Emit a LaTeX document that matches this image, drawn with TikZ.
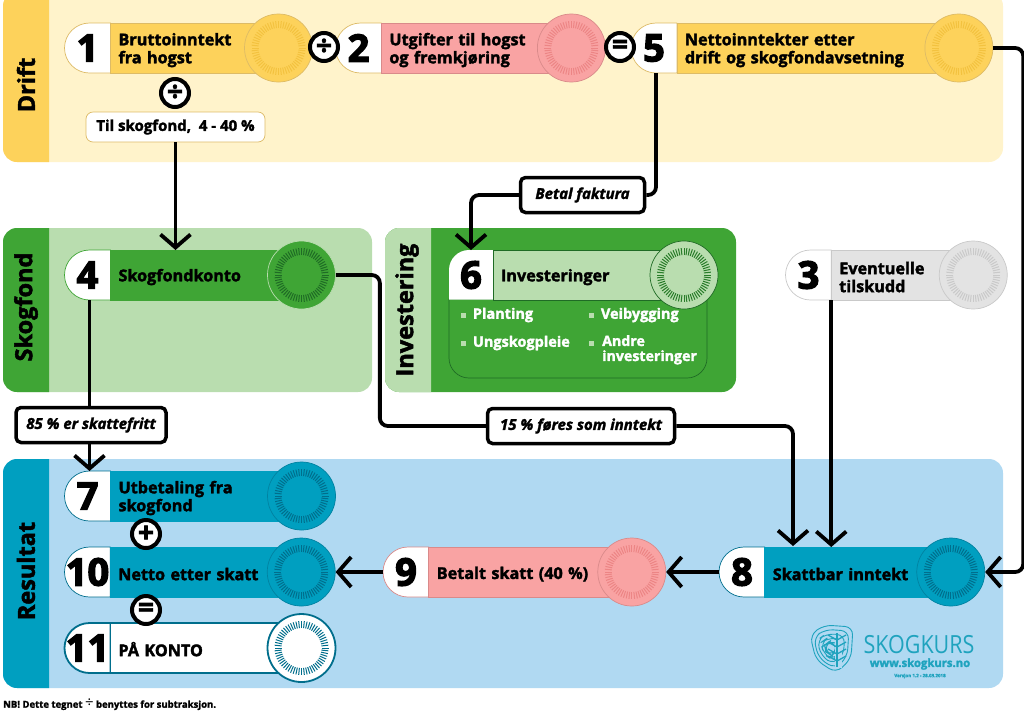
\documentclass[tikz,border=0pt]{standalone}
\usepackage{fontspec}
\setmainfont{Open Sans}[BoldFeatures={FakeBold=2},BoldItalicFeatures={FakeBold=2}]
\newfontfamily\numfont{Open Sans}[BoldFeatures={FakeBold=3.5}]
\usepackage{tikz}
\usetikzlibrary{arrows.meta,shapes.misc,positioning}
\definecolor{gul}{HTML}{FDD25B}
\definecolor{gullys}{HTML}{FFF3CB}
\definecolor{gulkant}{HTML}{DDBB66}
\definecolor{gulstraale}{HTML}{F3C23F}
\definecolor{rod}{HTML}{F9A3A3}
\definecolor{rodkant}{HTML}{D98A8A}
\definecolor{rodstraale}{HTML}{EC8585}
\definecolor{gronn}{HTML}{3FA535}
\definecolor{gronnlys}{HTML}{B9DDAF}
\definecolor{gronnmork}{HTML}{1F6B25}
\definecolor{bla}{HTML}{009FC0}
\definecolor{blalys}{HTML}{B0D9F2}
\definecolor{blamork}{HTML}{006E8C}
\definecolor{gra}{HTML}{E3E3E3}
\definecolor{grakant}{HTML}{C9C9C9}
\definecolor{logobla}{HTML}{1FA3BE}

% rays round a disc
\newcommand{\rays}[2]{%
  \foreach \a in {0,6,...,354}
    \draw[#2,line width=1pt] (#1)+(\a:20) -- +(\a:27);%
}
\newcommand{\panelfill}[7]{%
  \fill[#7,rounded corners=14pt] (#1,#2) rectangle (#3,#4);
  \fill[#6] (#5,#2) [rounded corners=14pt] -- (#1,#2) -- (#1,#4) [sharp corners] -- (#5,#4) -- cycle;%
}

\begin{document}
\begin{tikzpicture}[
  x=1pt,y=-1pt,
  numcell/.style={draw=#1,fill=white,rounded rectangle,rounded rectangle right arc=none,
                  minimum width=45pt,minimum height=50pt,inner sep=0pt,outer sep=0pt,
                  line width=0.7pt,execute at begin node={\kern-4pt},
                  font=\fontsize{38}{38}\numfont\bfseries},
  bodybox/.style={draw=#1,rectangle,minimum height=50pt,inner xsep=8pt,inner ysep=0pt,
                  outer sep=0pt,line width=0.7pt,align=left,
                  execute at begin node={\rule{0pt}{16.5pt}},
                  font=\fontsize{16.2}{18}\selectfont\bfseries},
  disc/.style={circle,minimum size=68pt,inner sep=0pt,line width=0.7pt},
  panellab/.style={rotate=90,font=\fontsize{23.5}{25}\selectfont\bfseries},
  opr/.style={circle,draw=black,fill=white,line width=4pt,minimum size=28pt,inner sep=0pt,
              font=\fontsize{28}{28}\selectfont\bfseries},
  lab/.style={draw=black,fill=white,line width=3.5pt,rounded corners=5pt,inner sep=0pt,
              minimum height=35pt,font=\fontsize{15}{15}\selectfont\bfseries\itshape},
  arr/.style={line width=3.8pt,rounded corners=8pt,-{Straight Barb[length=13pt,width=30pt]}},
  pil/.style={line width=3.8pt,rounded corners=8pt},
  bullet/.style={anchor=west,text=white,font=\fontsize{14.5}{15}\selectfont\bfseries,
                 align=left,inner sep=0pt},
  tick/.style={fill=gronnlys,minimum size=5pt,inner sep=0pt},
]
  \useasboundingbox (0,0) rectangle (1024,713);

  \panelfill{3}{-8}{1003}{162}{49}{gul}{gullys}
  \panelfill{3}{228}{372}{392}{49}{gronn}{gronnlys}
  \panelfill{385}{228}{736}{392}{431}{gronnlys}{gronn}
  \panelfill{3}{459}{1003}{688}{49}{bla}{blalys}

  \node[panellab] (drift) at (26,85) {Drift};
  \node[panellab] (skogfond) at (26,307) {Skogfond};
  \node[panellab] (investering) at (407,310) {Investering};
  \node[panellab] (resultat) at (26,571) {Resultat};

  % rad 1
  \node[numcell=gulkant] (n1) at (89.5,48) {1};
  \node[bodybox=gulkant,fill=gul,right=0pt of n1,text width=152pt] (b1)
    {Bruttoinntekt\\fra hogst};
  \node[disc,draw=gulkant,fill=gul] (d1) at (b1.east) {};
  \rays{d1}{gulstraale}

  \node[numcell=gulkant] (n2) at (360.5,48) {2};
  \node[bodybox=rodkant,fill=rod,right=0pt of n2,text width=174pt] (b2)
    {Utgifter til hogst\\og fremkjøring};
  \node[disc,draw=rodkant,fill=rod] (d2) at (b2.east) {};
  \rays{d2}{rodstraale}

  \node[numcell=gulkant] (n5) at (656,48) {5};
  \node[bodybox=gulkant,fill=gul,right=0pt of n5,text width=266pt] (b5)
    {Nettoinntekter etter\\drift og skogfondavsetning};
  \node[disc,draw=gulkant,fill=gul] (d5) at (b5.east) {};
  \rays{d5}{gulstraale}

  \node[opr] (o1) at (324,47) {÷};
  \node[opr] (o2) at (620,47) {=};
  \node[opr] (o3) at (175,93) {÷};

  \node[draw=gulkant,fill=white,rounded corners=7pt,minimum width=179pt,minimum height=30pt,
        inner sep=0pt,line width=0.7pt,font=\fontsize{15}{15}\selectfont\bfseries]
    (til) at (175.5,127) {Til skogfond,~ 4 - 40 \%};

  % rad 2
  \node[numcell=gronn] (n4) at (89.5,275) {4};
  \node[bodybox=gronn,fill=gronn,right=0pt of n4,text width=175pt] (b4) {Skogfondkonto};
  \node[disc,draw=gronnlys,fill=gronn] (d4) at (b4.east) {};
  \rays{d4}{gronnmork}

  \draw[draw=gronnmork,fill=gronn,line width=0.7pt]
    (449,299) [rounded corners=20pt] -- (449,378) -- (707,378) [sharp corners] -- (707,299) -- cycle;
  \fill[white] (493,299.5) -- (449,299.5) [rounded corners=20pt] -- (449,250) [sharp corners] -- (493,250) -- cycle;
  \node[inner sep=0pt,outer sep=0pt,minimum width=44pt,minimum height=50pt,
        font=\fontsize{38}{38}\numfont\bfseries] (n6) at (471,275) {6};
  \node[bodybox=gronnmork,fill=gronnlys,right=0pt of n6,text width=175pt] (b6) {Investeringer};
  \node[disc,draw=gronnmork,fill=gronnlys] (d6) at (b6.east) {};
  \rays{d6}{gronnmork!70!gronn}

  \node[tick] (t1) at (463,315) {};
  \node[tick] (t2) at (463,343) {};
  \node[tick] (t3) at (591,315) {};
  \node[tick] (t4) at (591,343) {};
  \node[bullet,right=7pt of t1] (p1) {Planting};
  \node[bullet,right=7pt of t2] (p2) {Ungskogpleie};
  \node[bullet,right=7pt of t3] (p3) {Veibygging};
  \node[bullet,anchor=north west,font=\fontsize{14.2}{15}\selectfont\bfseries] (p4) at (602,335) {Andre\\investeringer};

  \node[numcell=grakant] (n3) at (810.5,275) {3};
  \node[bodybox=grakant,fill=gra,right=0pt of n3,text width=126pt] (b3) {Eventuelle\\tilskudd};
  \node[disc,draw=grakant,fill=gra] (d3) at (b3.east) {};
  \rays{d3}{grakant}

  % resultat
  \node[numcell=blamork] (n7) at (89.5,496) {7};
  \node[bodybox=bla,fill=bla,right=0pt of n7,text width=175pt] (b7) {Utbetaling fra\\skogfond};
  \node[disc,draw=blamork!60!bla,fill=bla] (d7) at (b7.east) {};
  \rays{d7}{blamork}

  \node[numcell=blamork] (n10) at (89.5,572) {10};
  \node[bodybox=bla,fill=bla,right=0pt of n10,text width=175pt] (b10) {Netto etter skatt};
  \node[disc,draw=blamork!60!bla,fill=bla] (d10) at (b10.east) {};
  \rays{d10}{blamork}

  \node[numcell=blamork,line width=1.8pt] (n11) at (89.5,648) {11};
  \node[bodybox=blamork,fill=white,line width=1.8pt,right=0pt of n11,text width=175pt] (b11) {PÅ KONTO};
  \node[disc,draw=blamork,fill=white,line width=1.8pt] (d11) at (b11.east) {};
  \rays{d11}{blamork}

  \node[opr] (o4) at (146,534) {+};
  \node[opr] (o5) at (146,610) {=};

  \node[numcell=rodkant] (n9) at (408,572) {9};
  \node[bodybox=rodkant,fill=rod,right=0pt of n9,text width=187pt] (b9) {Betalt skatt (40 \%)};
  \node[disc,draw=rodkant,fill=rod] (d9) at (b9.east) {};
  \rays{d9}{rodstraale}

  \node[numcell=blamork] (n8) at (744,572) {8};
  \node[bodybox=bla,fill=bla,right=0pt of n8,text width=170pt] (b8) {Skattbar inntekt};
  \node[disc,draw=blamork!60!bla,fill=bla] (d8) at (b8.east) {};
  \rays{d8}{blamork}

  % merkelapper
  \node[lab,minimum width=124pt] (faktura) at (582.5,195) {Betal faktura};
  \node[lab,minimum width=150pt] (fritt) at (91,425) {85 \% er skattefritt};
  \node[lab,minimum width=187pt] (inntekt) at (581,426) {15 \% føres som inntekt};

  % piler
  \draw[arr] (til.south) -- (til.south |- b4.north);
  \draw[pil] (n5.south) |- (faktura.east);
  \draw[arr] (faktura.west) -| (n6.north);
  \draw[pil] (n4.south) -- (fritt.north -| n4.south);
  \draw[arr] (fritt.south -| n7.north) -- (n7.north);
  \draw[pil] (d4.east) -- ++(44,0) |- (inntekt.west);
  \draw[arr] (inntekt.east) -| (793,546);
  \draw[arr] (n3.south east) -- (n3.south east |- b8.north);
  \draw[arr] (d5.east) -- ++(30,0) |- (d8.east);
  \draw[arr] (n8.west) -- (d9.east);
  \draw[arr] (n9.west) -- (d10.east);

  % logo
  \foreach \s in {1,0.82,0.64,0.46,0.28} {
    \draw[logobla,line width=0.9pt,rounded corners=8pt,shift={(830,649)},scale=\s]
      (-20,-14) -- (-6,-24) -- (23,-22) -- (21,10) -- (6,24) -- (-14,11) -- cycle;
  }
  \draw[blalys,line width=7pt] (838,640) -- (838,668);
  \draw[logobla,line width=1.5pt] (837,633) -- (837,667);
  \foreach \y in {640,647,654,661} {
    \draw[logobla,line width=1.3pt] (837,\y) -- ++(-9,-5);
    \draw[logobla,line width=1.3pt] (837,\y) -- ++(9,-5);
  }
  \node[logobla,inner sep=0pt,xscale=0.86,transform shape,font=\fontsize{25}{25}\selectfont] (skogkurs) at (919,644.5) {SKOGKURS};
  \node[logobla,inner sep=0pt,font=\fontsize{11.3}{12}\selectfont\bfseries] (www) at (920,664) {www.skogkurs.no};
  \node[logobla,inner sep=0pt,font=\fontsize{4.5}{5}\selectfont\bfseries] (versjon) at (920,676) {Versjon 1.2 - 28.03.2018};

  \node[anchor=west,inner sep=0pt,font=\fontsize{9.5}{10}\selectfont\bfseries] (nb) at (3,704.5)
    {NB! Dette tegnet {\fontsize{15}{10}\selectfont\mdseries ÷} benyttes for subtraksjon.};
\end{tikzpicture}
\end{document}
